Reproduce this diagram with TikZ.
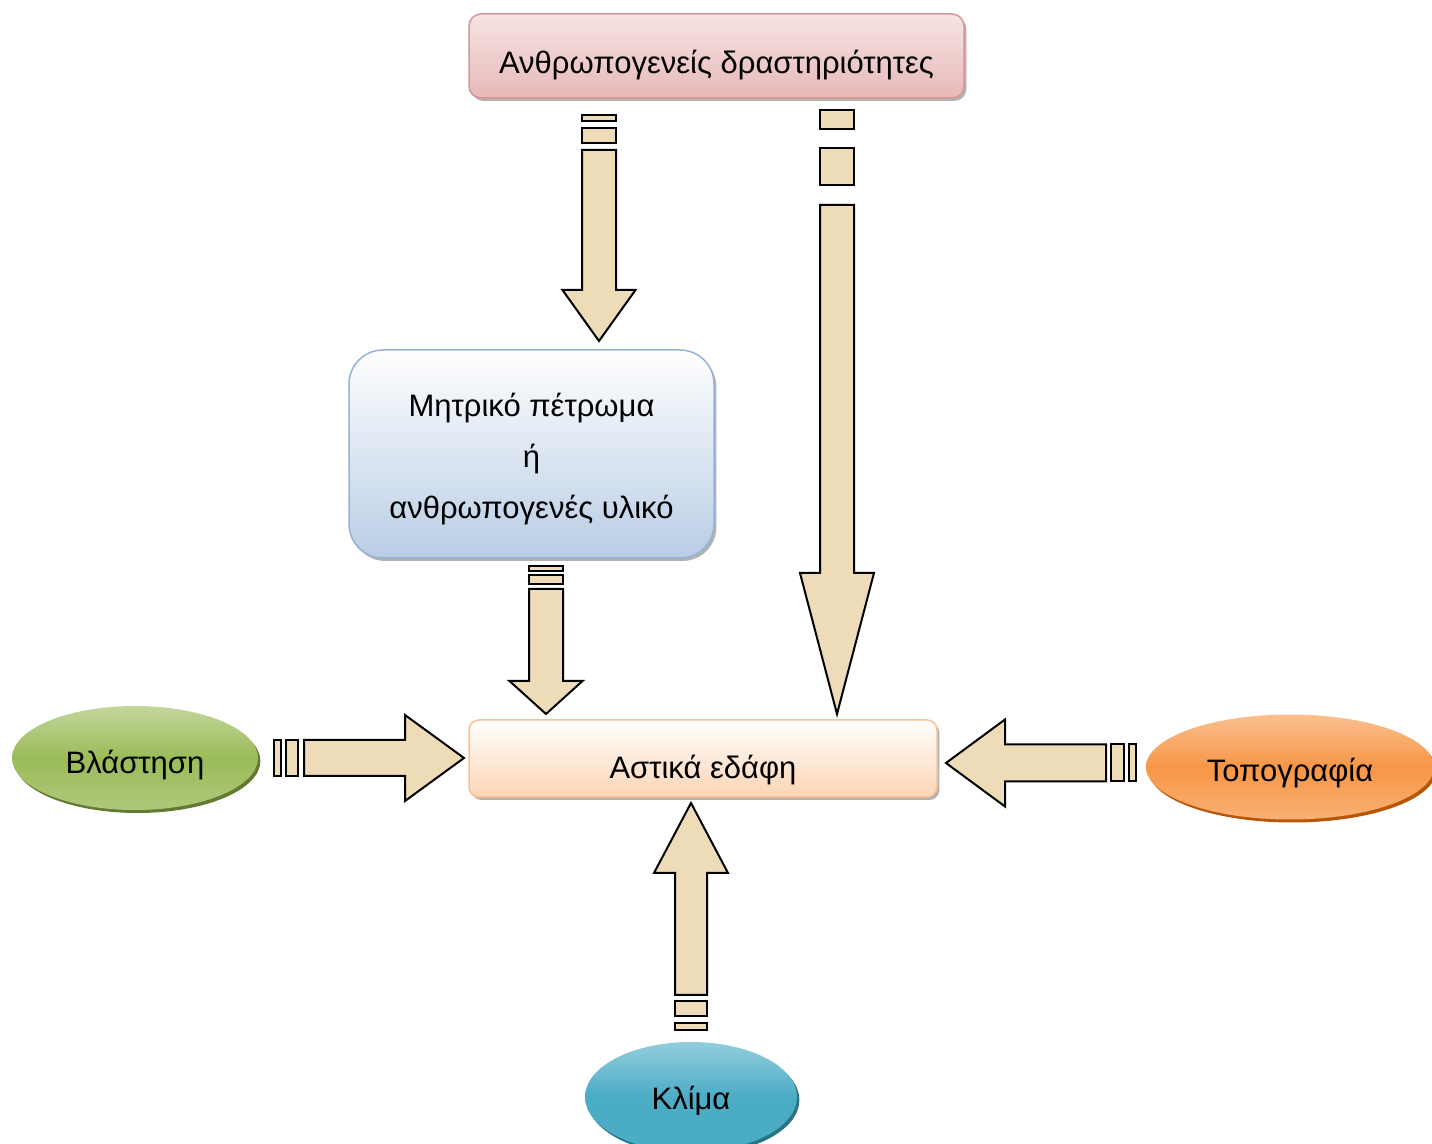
\documentclass[tikz,border=0pt]{standalone}
\usepackage{fontspec}
\setmainfont{Liberation Sans}
\usetikzlibrary{shapes.geometric,shadows}
\definecolor{pinkline}{HTML}{D99694}
\definecolor{pinkfill}{HTML}{E6B9B8}
\definecolor{pinktop}{HTML}{F6E4E3}
\definecolor{blueline}{HTML}{95B3D7}
\definecolor{bluefill}{HTML}{B9CDE5}
\definecolor{peachline}{HTML}{FAC090}
\definecolor{peachfill}{HTML}{FCD5B5}
\definecolor{vegdark}{HTML}{627A31}
\definecolor{veg}{HTML}{9BBB59}
\definecolor{veglight}{HTML}{C3D69B}
\definecolor{topodark}{HTML}{B65708}
\definecolor{topo}{HTML}{F79646}
\definecolor{topolight}{HTML}{FAC090}
\definecolor{climadark}{HTML}{2A7286}
\definecolor{clima}{HTML}{4BACC6}
\definecolor{climalight}{HTML}{93CDDD}
\definecolor{sand}{HTML}{EEDCB8}
\newcommand\stripearrow[7]{%
  \begin{scope}[shift={(#1)},rotate=#2]
    \draw[blockarrow] (0,0) -- (-#5,#4) -- (-#5,#3) -- ({-#5-#6},#3)
      -- ({-#5-#6},-#3) -- (-#5,-#3) -- (-#5,-#4) -- cycle;
    \foreach \a/\b in {#7}
      \draw[blockarrow] (-\a,-#3) rectangle (-\b,#3);
  \end{scope}}
\begin{document}
\begin{tikzpicture}[x=0.5pt,y=-0.5pt,
    font=\fontsize{15.5}{25.5}\selectfont,
    box/.style={rectangle,inner sep=0pt,line width=0.75pt,align=center,
      drop shadow={shadow xshift=1.2pt,shadow yshift=-1.5pt,fill=black,opacity=0.3}},
    blob/.style={ellipse,inner sep=0pt,
      drop shadow={shadow xshift=1.2pt,shadow yshift=-1.5pt,fill=#1,opacity=1}},
    blockarrow/.style={draw=black,line width=1pt,fill=sand,line join=miter}]
  \useasboundingbox (0,0) rectangle (1432,1144);
  \node[box,draw=pinkline,top color=pinktop,bottom color=pinkfill,rounded corners=6pt,
    minimum width=247.5pt,minimum height=42pt,text height=18pt,text depth=0pt]
    (human) at (716.5,56) {Ανθρωπογενείς δραστηριότητες};
  \node[box,draw=blueline,top color=white,bottom color=bluefill,rounded corners=17pt,
    minimum width=182.5pt,minimum height=104pt] (mother) at (531.5,454)
    {\rule{0pt}{17pt}Μητρικό πέτρωμα\\ή\\ανθρωπογενές υλικό};
  \node[box,draw=peachline,top color=white,bottom color=peachfill,rounded corners=5pt,
    minimum width=234pt,minimum height=38.5pt,text height=20.5pt,text depth=0pt]
    (urban) at (703,758.5) {Αστικά εδάφη};
  \node[blob=vegdark,top color=veglight,bottom color=veg!80!white,middle color=veg,
    minimum width=123pt,minimum height=52pt,text height=16pt,text depth=0pt]
    (veget) at (135,758) {Βλάστηση};
  \node[blob=topodark,top color=topolight,bottom color=topo!75!white,middle color=topo,
    minimum width=144pt,minimum height=52.5pt,text height=15pt,text depth=0pt]
    (topog) at (1290,767) {Τοπογραφία};
  \node[blob=climadark,top color=climalight,bottom color=clima,middle color=clima,
    minimum width=106pt,minimum height=55pt,text height=12.5pt,text depth=0pt]
    (climate) at (691,1097) {Κλίμα};
  \coordinate (tipA) at (599,341);
  \coordinate (tipB) at (837,714);
  \coordinate (tipC) at (546,714);
  \coordinate (tipD) at (464,758);
  \coordinate (tipE) at (946,763);
  \coordinate (tipF) at (691,803);
  \stripearrow{tipA}{-90}{17}{36.5}{51}{140}{198/213,220/226}
  \stripearrow{tipB}{-90}{17}{37}{141}{368}{529/566,585/604}
  \stripearrow{tipC}{-90}{17}{36.5}{33}{92}{130/139,143/148}
  \stripearrow{tipD}{0}{18}{43}{59}{101}{166/178,183/190}
  \stripearrow{tipE}{180}{18.5}{43.5}{59}{101}{165/178,183/190}
  \stripearrow{tipF}{90}{16}{37}{70}{122}{198/213,220/227}
\end{tikzpicture}
\end{document}
